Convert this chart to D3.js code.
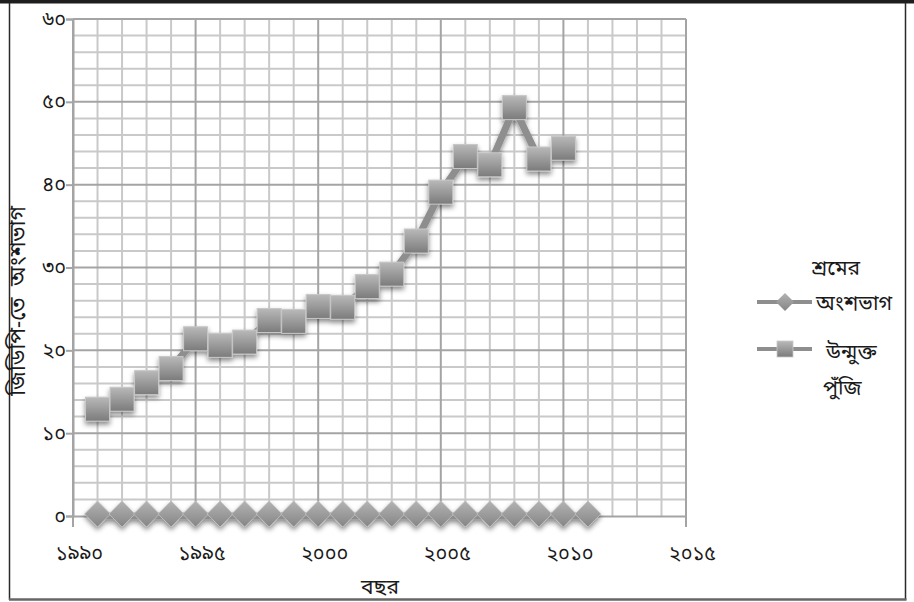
<!DOCTYPE html>
<html>
<head>
<meta charset="utf-8">
<script src="https://cdn.jsdelivr.net/npm/d3@7"></script>
<style>
  html, body { margin: 0; padding: 0; background: #fff; }
  svg { display: block; }
  text { font-family: "Noto Sans Bengali", "Noto Serif Bengali", "Lohit Bengali", "FreeSerif", "Noto Sans", sans-serif; fill: #1a1a1a; }
</style>
</head>
<body>
<svg id="chart" width="914" height="602"></svg>
<script>
// Years and values for the two series
const laborYears   = [1991, 1992, 1993, 1994, 1995, 1996, 1997, 1998, 1999, 2000, 2001,
                      2002, 2003, 2004, 2005, 2006, 2007, 2008, 2009, 2010, 2011];
const laborShare   = [0, 0, 0, 0, 0, 0, 0, 0, 0, 0, 0, 0, 0, 0, 0, 0, 0, 0, 0, 0, 0];
const capitalYears = [1991, 1992, 1993, 1994, 1995, 1996, 1997, 1998, 1999, 2000,
                      2001, 2002, 2003, 2004, 2005, 2006, 2007, 2008, 2009, 2010];
const openCapital  = [12.9, 14.1, 16.1, 17.8, 21.4, 20.6, 21.0, 23.6, 23.5, 25.3,
                      25.2, 27.7, 29.2, 33.2, 39.1, 43.4, 42.4, 49.3, 43.1, 44.4];

// Axis ticks and Bengali labels
const xMajorTicks  = [1990, 1995, 2000, 2005, 2010, 2015];
const xTickLabels  = ["১৯৯০", "১৯৯৫", "২০০০", "২০০৫", "২০১০", "২০১৫"];
const yMajorTicks  = [0, 10, 20, 30, 40, 50, 60];
const yTickLabels  = ["০", "১০", "২০", "৩০", "৪০", "৫০", "৬০"];

const xTitle = "বছর";
const yTitle = "জিডিপি-তে  অংশভাগ";
const legendLabour  = ["শ্রমের", "অংশভাগ"];
const legendCapital = ["উন্মুক্ত", "পুঁজি"];

const svg = d3.select("#chart");

const x = d3.scaleLinear().domain([1990, 2015]).range([73, 686]);
const y = d3.scaleLinear().domain([0, 60]).range([516, 19]);

// defs: gradients and drop shadow
const defs = svg.append("defs");
const sq = defs.append("linearGradient").attr("id", "gSquare")
  .attr("x1", 0).attr("y1", 0).attr("x2", 0).attr("y2", 1);
sq.append("stop").attr("offset", "0%").attr("stop-color", "#b9b9b9");
sq.append("stop").attr("offset", "100%").attr("stop-color", "#7b7b7b");
const dm = defs.append("linearGradient").attr("id", "gDiamond")
  .attr("x1", 0).attr("y1", 0).attr("x2", 0).attr("y2", 1);
dm.append("stop").attr("offset", "0%").attr("stop-color", "#b3b3b3");
dm.append("stop").attr("offset", "100%").attr("stop-color", "#858585");
const sh = defs.append("filter").attr("id", "shadow")
  .attr("x", "-30%").attr("y", "-30%").attr("width", "160%").attr("height", "170%");
sh.append("feDropShadow").attr("dx", 0).attr("dy", 3).attr("stdDeviation", 2.5)
  .attr("flood-color", "#000").attr("flood-opacity", 0.45);

// Frame
svg.append("rect").attr("x", 0).attr("y", 0).attr("width", 914).attr("height", 3.5).attr("fill", "#1e1e1e");
svg.append("line").attr("x1", 9.5).attr("x2", 9.5).attr("y1", 3).attr("y2", 600)
  .attr("stroke", "#2a2a2a").attr("stroke-width", 1.5);
svg.append("line").attr("x1", 905.5).attr("x2", 905.5).attr("y1", 3).attr("y2", 600)
  .attr("stroke", "#2a2a2a").attr("stroke-width", 1.5);
svg.append("line").attr("x1", 9).attr("x2", 906.5).attr("y1", 599.5).attr("y2", 599.5)
  .attr("stroke", "#666").attr("stroke-width", 2.5);

// Grid
const grid = svg.append("g");
const yMinor = d3.range(2, 60, 2).filter(v => v % 10 !== 0);
const xMinor = d3.range(1991, 2015).filter(v => v % 5 !== 0);
grid.selectAll(".hmin").data(yMinor).join("line")
  .attr("x1", x(1990)).attr("x2", x(2015)).attr("y1", d => y(d)).attr("y2", d => y(d))
  .attr("stroke", "#c9c9c9").attr("stroke-width", 2);
grid.selectAll(".vmin").data(xMinor).join("line")
  .attr("x1", d => x(d)).attr("x2", d => x(d)).attr("y1", y(60)).attr("y2", y(0))
  .attr("stroke", "#c9c9c9").attr("stroke-width", 2);
grid.selectAll(".hmaj").data(yMajorTicks.filter(v => v > 0)).join("line")
  .attr("x1", x(1990)).attr("x2", x(2015)).attr("y1", d => y(d)).attr("y2", d => y(d))
  .attr("stroke", "#a4a4a4").attr("stroke-width", 2);
grid.selectAll(".vmaj").data(xMajorTicks).join("line")
  .attr("x1", d => x(d)).attr("x2", d => x(d)).attr("y1", y(60)).attr("y2", y(0) + 11)
  .attr("stroke", "#a4a4a4").attr("stroke-width", 2);

// Axes (tick marks + labels)
const yAxis = d3.axisLeft(y).tickValues(yMajorTicks).tickSize(7)
  .tickFormat((d, i) => yTickLabels[i]);
const gy = svg.append("g").attr("transform", `translate(${x(1990)},0)`).call(yAxis);
gy.attr("font-family", null).attr("font-size", null);
gy.select(".domain").attr("stroke", "#a4a4a4").attr("stroke-width", 2);
gy.selectAll(".tick line").attr("stroke", "#a4a4a4").attr("stroke-width", 2);
gy.selectAll(".tick text").attr("font-size", 20).attr("x", -7).attr("dy", "0.3em")
  .attr("fill", "#1a1a1a");

const xAxis = d3.axisBottom(x).tickValues(xMajorTicks).tickSize(0)
  .tickFormat((d, i) => xTickLabels[i]);
const gx = svg.append("g").attr("transform", `translate(0,${y(0)})`).call(xAxis);
gx.attr("font-family", null).attr("font-size", null);
gx.select(".domain").attr("stroke", "#a4a4a4").attr("stroke-width", 2);
gx.selectAll(".tick text").attr("font-size", 20).attr("y", 30).attr("dx", 6)
  .attr("fill", "#1a1a1a");

// Axis titles
svg.append("text").attr("x", 380).attr("y", 594).attr("text-anchor", "middle")
  .attr("font-size", 21).text(xTitle);
svg.append("text").attr("transform", "translate(25,301) rotate(-90)")
  .attr("text-anchor", "middle").attr("font-size", 22).style("white-space", "pre").text(yTitle);

// Series lines
const line = d3.line().x(d => x(d[0])).y(d => y(d[1]));
const labourPts  = laborYears.map((yr, i) => [yr, laborShare[i]]);
const capitalPts = capitalYears.map((yr, i) => [yr, openCapital[i]]);

const series = svg.append("g").attr("filter", "url(#shadow)");
series.append("path").datum(labourPts).attr("d", line)
  .attr("fill", "none").attr("stroke", "#8e8e8e").attr("stroke-width", 7);
series.selectAll(".diamond").data(labourPts).join("path")
  .attr("transform", d => `translate(${x(d[0])},${y(d[1]) - 2})`)
  .attr("d", "M0,-13L13,0L0,13L-13,0Z")
  .attr("fill", "url(#gDiamond)").attr("stroke", "#c4c4c4").attr("stroke-width", 0.8);

series.append("path").datum(capitalPts).attr("d", line)
  .attr("fill", "none").attr("stroke", "#8e8e8e").attr("stroke-width", 7)
  .attr("stroke-linejoin", "round");
series.selectAll(".square").data(capitalPts).join("rect")
  .attr("x", d => x(d[0]) - 12).attr("y", d => y(d[1]) - 12)
  .attr("width", 24).attr("height", 24)
  .attr("fill", "url(#gSquare)").attr("stroke", "#c8c8c8").attr("stroke-width", 1);

// Legend
const lg = svg.append("g");
lg.append("text").attr("x", 836).attr("y", 275).attr("text-anchor", "middle")
  .attr("font-size", 21).text(legendLabour[0]);
lg.append("line").attr("x1", 757).attr("x2", 812).attr("y1", 302).attr("y2", 302)
  .attr("stroke", "#8e8e8e").attr("stroke-width", 4);
lg.append("path").attr("transform", "translate(785,302)").attr("d", "M0,-9L9,0L0,9L-9,0Z")
  .attr("fill", "url(#gDiamond)");
lg.append("text").attr("x", 816).attr("y", 310).attr("font-size", 21).text(legendLabour[1]);

lg.append("line").attr("x1", 757).attr("x2", 812).attr("y1", 349).attr("y2", 349)
  .attr("stroke", "#8e8e8e").attr("stroke-width", 4);
lg.append("rect").attr("x", 777).attr("y", 341).attr("width", 16).attr("height", 16)
  .attr("fill", "url(#gSquare)").attr("stroke", "#c8c8c8").attr("stroke-width", 0.8);
lg.append("text").attr("x", 826).attr("y", 359).attr("font-size", 21).text(legendCapital[0]);
lg.append("text").attr("x", 823).attr("y", 395).attr("font-size", 21).text(legendCapital[1]);
</script>
</body>
</html>
